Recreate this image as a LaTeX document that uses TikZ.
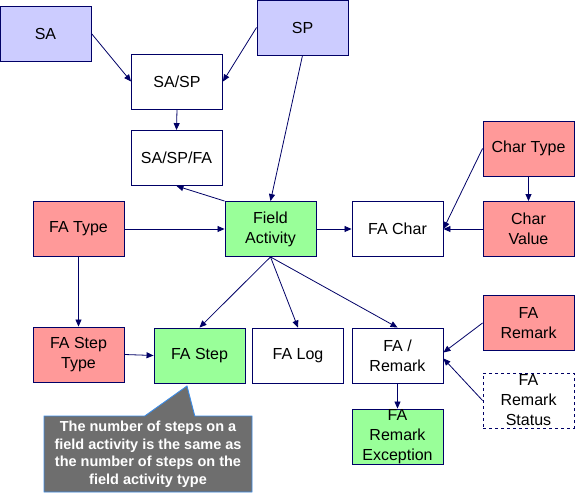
\documentclass[tikz,border=0pt]{standalone}
\usepackage{fontspec}
\setmainfont{Liberation Sans}
\usetikzlibrary{arrows.meta, shapes.callouts}
\definecolor{boxline}{HTML}{000066}
\definecolor{boxblue}{HTML}{CCCCFF}
\definecolor{boxred}{HTML}{FF9999}
\definecolor{boxgreen}{HTML}{99FF99}
\definecolor{notegray}{HTML}{6E6E6E}
\definecolor{noteline}{HTML}{3C8CE6}
\tikzset{
    entity/.style = {draw = boxline, line width = 0.9pt, fill = white, minimum width = 91pt, minimum height = 55pt, align = center, inner sep = 0pt, font = \fontsize{16}{20}\selectfont},
    link/.style = {boxline, line width = 0.8pt, -{Triangle[length = 7pt, width = 6pt]}},
}

\begin{document}
\begin{tikzpicture}[x = 1pt, y = -1pt]
            \useasboundingbox (0, 0) rectangle (576, 497);

            \node[entity, fill = boxblue] (sa) at (45.5, 33.5) {SA};
            \node[entity, fill = boxblue] (sp) at (302.5, 27.5) {SP};
            \node[entity] (sa_sp) at (177, 81.5) {SA/SP};
            \node[entity] (sa_sp_fa) at (176.5, 158) {SA/SP/FA};
            \node[entity, fill = boxred] (fa_type) at (78.5, 229) {FA Type};
            \node[entity, fill = boxgreen] (field_activity) at (270.5, 229) {Field\\Activity};
            \node[entity] (fa_char) at (397.5, 229) {FA Char};
            \node[entity, fill = boxred] (char_type) at (528.5, 148.5) {Char Type};
            \node[entity, fill = boxred] (char_value) at (528.5, 229) {Char\\Value};
            \node[entity, fill = boxred] (fa_step_type) at (78.5, 354.5) {FA Step\\Type};
            \node[entity, fill = boxgreen] (fa_step) at (199.5, 355.5) {FA Step};
            \node[entity] (fa_log) at (298, 355.5) {FA Log};
            \node[entity] (fa_remark_link) at (397.5, 355.5) {FA /\\Remark};
            \node[entity, fill = boxred] (fa_remark) at (528.5, 323) {FA\\Remark};
            \node[entity, dashed] (fa_remark_status) at (528.5, 400.5) {FA\\Remark\\Status};
            \node[entity, fill = boxgreen] (fa_remark_exc) at (397.5, 436.5) {FA\\Remark\\Exception};

            \draw[link] (sa.east) -- (sa_sp.west);
            \draw[link] (sp.west) -- (sa_sp.east);
            \draw[link] (sa_sp.south) -- (sa_sp_fa.north);
            \draw[link] (sp.south) -- (field_activity.north);
            \draw[link] (field_activity.north west) -- (sa_sp_fa.south);
            \draw[link] (fa_type.east) -- (field_activity.west);
            \draw[link] (fa_type.south) -- (fa_step_type.north);
            \draw[link] (field_activity.east) -- (fa_char.west);
            \draw[link] (char_type.west) -- (fa_char.east);
            \draw[link] (char_type.south) -- (char_value.north);
            \draw[link] (char_value.west) -- (fa_char.east);
            \draw[link] (field_activity.south) -- (fa_step.north);
            \draw[link] (field_activity.south) -- (fa_log.north);
            \draw[link] (field_activity.south) -- (fa_remark_link.north);
            \draw[link] (fa_step_type.east) -- (fa_step.west);
            \draw[link] (fa_remark.west) -- ([yshift = 3pt]fa_remark_link.east);
            \draw[link] (fa_remark_status.west) -- ([yshift = -3pt]fa_remark_link.east);
            \draw[link] (fa_remark_link.south) -- (fa_remark_exc.north);

            \node[rectangle callout, fill = notegray, draw = noteline, line width = 0.9pt, text = white, align = center,
                  minimum width = 208pt, minimum height = 76pt, inner sep = 1pt,
                  font = \fontsize{14.5}{17.5}\selectfont\bfseries,
                  callout absolute pointer = {(187, 386)}, callout pointer width = 50pt] (steps_note) at (148, 454)
                  {The number of steps on a\\field activity is the same as\\the number of steps on the\\field activity type};
\end{tikzpicture}
\end{document}
